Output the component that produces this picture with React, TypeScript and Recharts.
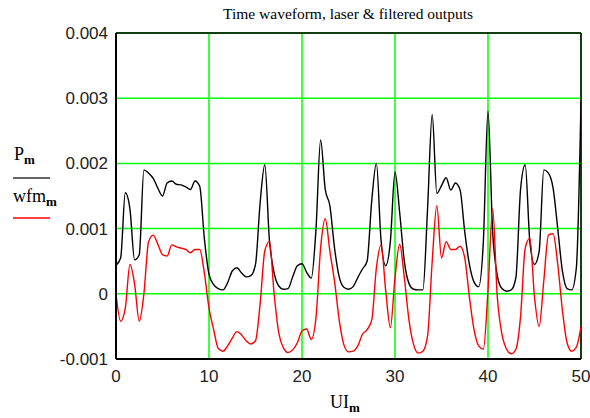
import { CartesianGrid, Line, LineChart, ReferenceLine, XAxis, YAxis } from "recharts";

// values, in units of 0.001
const ui = [
  0, 0.5, 1, 1.5, 2, 2.5, 3, 3.5, 4, 4.5, 5, 5.5, 6, 6.5, 7, 7.5, 8, 8.5, 9, 9.5,
  10, 10.5, 11, 11.5, 12, 12.5, 13, 13.5, 14, 14.5, 15, 15.5, 16, 16.5, 17, 17.5, 18, 18.5, 19, 19.5,
  20, 20.5, 21, 21.5, 22, 22.5, 23, 23.5, 24, 24.5, 25, 25.5, 26, 26.5, 27, 27.5, 28, 28.5, 29, 29.5,
  30, 30.5, 31, 31.5, 32, 32.5, 33, 33.5, 34, 34.5, 35, 35.5, 36, 36.5, 37, 37.5, 38, 38.5, 39, 39.5,
  40, 40.5, 41, 41.5, 42, 42.5, 43, 43.5, 44, 44.5, 45, 45.5, 46, 46.5, 47, 47.5, 48, 48.5, 49, 49.5,
  50,
];

const laser = [
  0.44, 0.55, 1.55, 1.3, 0.52, 0.6, 1.9, 1.85, 1.77, 1.62, 1.5, 1.7, 1.73, 1.68, 1.67, 1.64, 1.6, 1.73, 1.65, 0.85,
  0.3, 0.14, 0.08, 0.06, 0.17, 0.35, 0.4, 0.32, 0.26, 0.28, 0.45, 1.4, 1.98, 0.82, 0.32, 0.12, 0.07, 0.08, 0.26, 0.43,
  0.46, 0.33, 0.24, 0.98, 2.36, 1.6, 1.35, 0.7, 0.26, 0.1, 0.07, 0.11, 0.25, 0.38, 0.5, 1.43, 2.0, 0.82, 0.43, 0.8,
  1.87, 1.25, 0.5, 0.16, 0.07, 0.06, 0.06, 1.3, 2.75, 1.54, 1.66, 1.78, 1.59, 1.7, 1.59, 0.95, 0.45, 0.18, 0.11, 0.8,
  2.8, 0.95, 0.28, 0.08, 0.04, 0.06, 0.25, 1.6, 1.98, 0.8, 0.45, 0.65, 1.9, 1.85, 1.62, 1.0, 0.35, 0.08, 0.06, 0.4,
  2.95,
];

const filtered = [
  0.0, -0.42, -0.22, 0.45, 0.15, -0.42, 0.0, 0.8, 0.9, 0.76, 0.6, 0.58, 0.75, 0.72, 0.7, 0.68, 0.63, 0.68, 0.68, 0.32,
  -0.22, -0.55, -0.84, -0.88, -0.8, -0.68, -0.58, -0.63, -0.72, -0.77, -0.72, -0.15, 0.66, 0.8, 0.0, -0.6, -0.83, -0.9, -0.86, -0.75,
  -0.57, -0.54, -0.7, -0.37, 0.7, 1.15, 0.65, 0.19, -0.4, -0.78, -0.89, -0.88, -0.8, -0.62, -0.55, -0.4, 0.4, 0.75, 0.05, -0.52,
  0.25, 0.76, 0.25, -0.4, -0.78, -0.91, -0.88, -0.65, 0.5, 1.35, 0.55, 0.8, 0.68, 0.68, 0.73, 0.55, -0.05, -0.55, -0.8, -0.85,
  0.05, 1.3, -0.05, -0.62, -0.85, -0.92, -0.85, -0.35, 0.7, 0.85, -0.05, -0.5, 0.2, 0.9, 0.92, 0.45, -0.25, -0.75, -0.88, -0.82,
  -0.5,
];

const xTicks = [0, 10, 20, 30, 40, 50];
const yTicks = [-0.001, 0, 0.001, 0.002, 0.003, 0.004];

const data = ui.map((x, i) => ({ x, p: laser[i] / 1000, wfm: filtered[i] / 1000 }));

const tickStyle = { fill: "#222", fontSize: 17, fontFamily: "Liberation Sans, Arial, sans-serif" };
const serif = "Liberation Serif, Times New Roman, serif";

function fmtY(v: number) {
  return Math.abs(v) < 1e-9 ? "0" : v.toFixed(3);
}

export default function App() {
  return (
    <div style={{ position: "absolute", left: 0, top: 0, width: 590, height: 418, background: "#fff" }}>
      <LineChart width={590} height={418} data={data} margin={{ top: 33, right: 9, left: 0, bottom: 29 }}>
        <CartesianGrid stroke="#00ff00" strokeWidth={1.5} horizontalValues={yTicks} verticalValues={xTicks} />
        <XAxis
          type="number"
          dataKey="x"
          domain={[0, 50]}
          ticks={xTicks}
          height={30}
          tickLine={false}
          tickMargin={5}
          tick={tickStyle}
          axisLine={{ stroke: "#000", strokeWidth: 2 }}
          allowDataOverflow
        />
        <YAxis
          type="number"
          domain={[-0.001, 0.004]}
          ticks={yTicks}
          width={116}
          tickLine={false}
          tick={tickStyle}
          tickFormatter={fmtY}
          axisLine={{ stroke: "#000", strokeWidth: 2 }}
          allowDataOverflow
        />
        <ReferenceLine y={0.004} stroke="#000" strokeWidth={1.5} />
        <ReferenceLine x={50} stroke="#000" strokeWidth={1.5} />
        <Line type="monotone" dataKey="p" stroke="#000" strokeWidth={1.4} dot={false} isAnimationActive={false} />
        <Line type="monotone" dataKey="wfm" stroke="#ff0000" strokeWidth={1.4} dot={false} isAnimationActive={false} />
      </LineChart>
      <svg width={590} height={418} style={{ position: "absolute", left: 0, top: 0, pointerEvents: "none" }}>
        <text x={348} y={19} textAnchor="middle" fontFamily={serif} fontSize={15.5} fill="#000">
          Time waveform, laser &amp; filtered outputs
        </text>
        <text x={14} y={160} fontFamily={serif} fontSize={18} fill="#000">
          P
          <tspan fontSize={13} fontWeight="bold" dy={4}>m</tspan>
        </text>
        <line x1={13} y1={178} x2={50} y2={178} stroke="#333" strokeWidth={1.5} />
        <text x={13} y={202} fontFamily={serif} fontSize={18} fill="#000">
          wfm
          <tspan fontSize={13} fontWeight="bold" dy={4}>m</tspan>
        </text>
        <line x1={13} y1={218} x2={50} y2={218} stroke="#ff0000" strokeWidth={1.5} />
        <text x={330} y={408} fontFamily={serif} fontSize={18} fill="#000">
          UI
          <tspan fontSize={13} fontWeight="bold" dy={4}>m</tspan>
        </text>
      </svg>
    </div>
  );
}
